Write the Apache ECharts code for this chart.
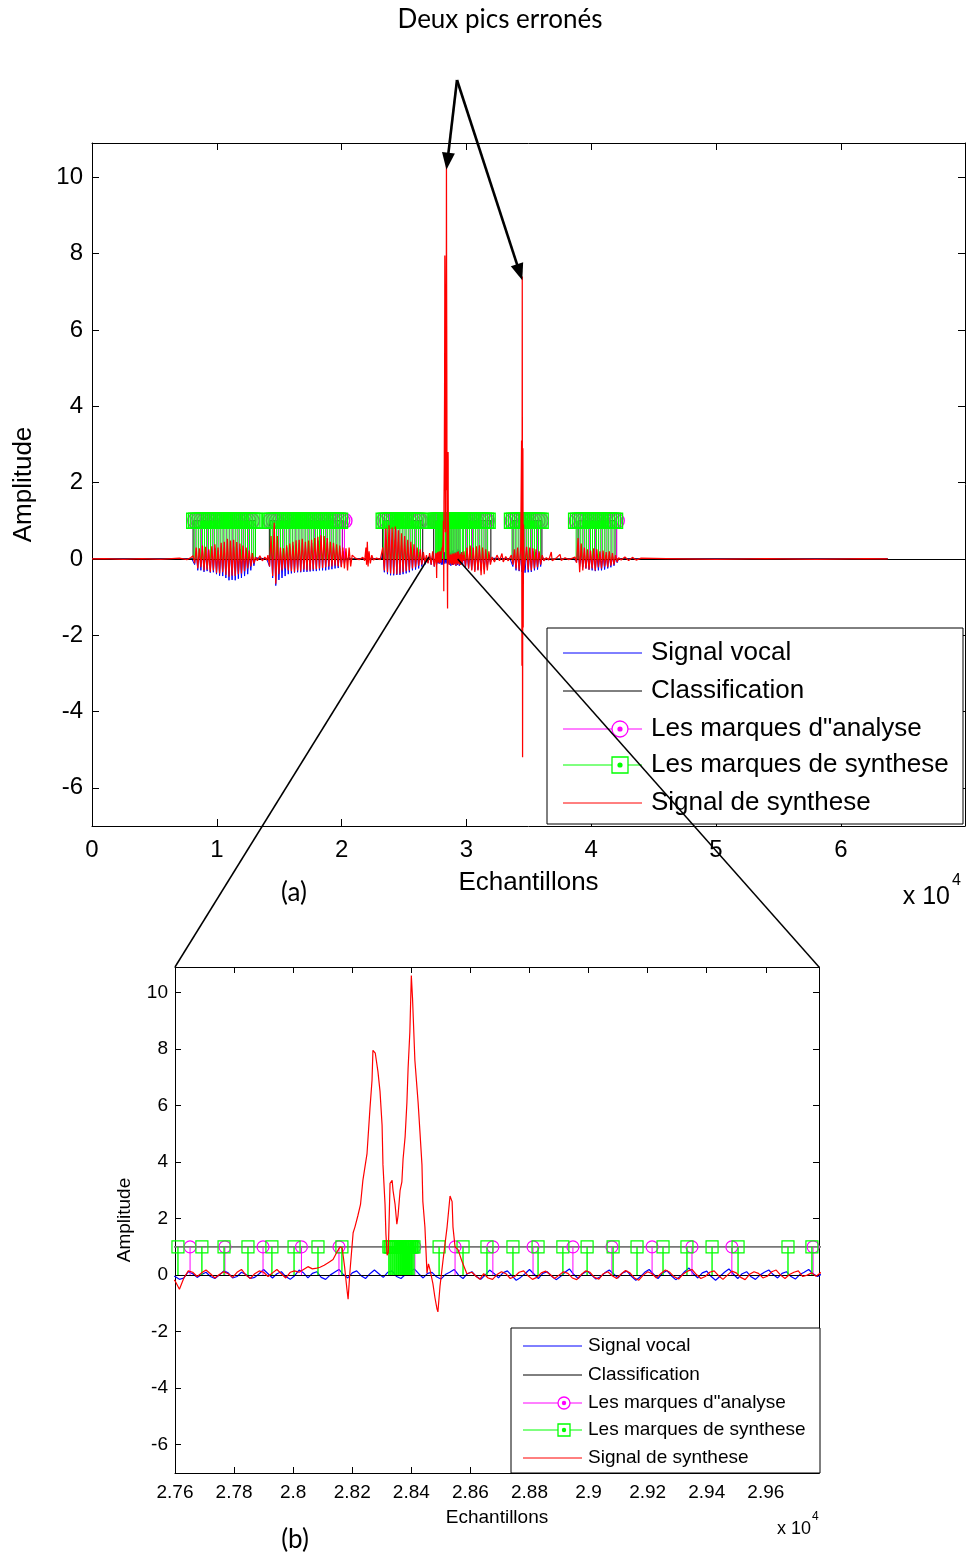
<!DOCTYPE html>
<html>
<head>
<meta charset="utf-8">
<script src="https://cdn.jsdelivr.net/npm/echarts@6.0.0/dist/echarts.min.js"></script>
<style>
html,body{margin:0;padding:0;background:#fff;}
#chart{width:968px;height:1557px;}
</style>
</head>
<body>
<div id="chart"></div>
<script>
// ================= DATA =================
// Voiced segments (classification = 1), in samples
const voicedStart = [8100, 14210, 23290, 27380, 33730, 38950];
const voicedEnd   = [13100, 20075, 26500, 31960, 36050, 42000];
const SIGNAL_END = 63760;

// Decimated samples of the voiced parts (plot a), one value every SEG_STEP samples
const SEG_STEP = 125;
const segStarts = [8100, 14100, 23300, 26800, 29800, 33600, 34700, 38700];
const synthA = [0.08,-0.12,0.3,-0.25,0.28,-0.22,0.35,-0.3,0.32,-0.28,0.25,-0.34,0.33,-0.3,0.38,-0.36,0.3,-0.38,0.42,-0.35,0.45,-0.42,0.53,-0.47,0.48,-0.44,0.5,-0.45,0.44,-0.4,0.4,-0.38,0.35,-0.32,0.3,-0.25,0.22,-0.2,0.15,-0.12,0.05];
const vocalA = [0.05,-0.15,0.2,-0.3,0.22,-0.3,0.25,-0.34,0.2,-0.32,0.22,-0.36,0.25,-0.35,0.28,-0.4,0.22,-0.44,0.3,-0.45,0.3,-0.5,0.35,-0.56,0.3,-0.55,0.32,-0.56,0.28,-0.52,0.25,-0.5,0.22,-0.45,0.2,-0.4,0.15,-0.3,0.1,-0.18,0.03];
const synthB = [0.1,-0.2,0.6,-0.45,0.95,-0.65,0.6,-0.4,0.3,-0.3,0.28,-0.25,0.36,-0.3,0.4,-0.32,0.45,-0.35,0.49,-0.3,0.5,-0.33,0.53,-0.28,0.45,-0.3,0.48,-0.3,0.5,-0.28,0.55,-0.27,0.58,-0.25,0.62,-0.24,0.6,-0.22,0.55,-0.2,0.45,-0.2,0.42,-0.18,0.38,-0.2,0.35,-0.22,0.3,-0.25,0.28,-0.3,0.3,-0.2,0.1];
const vocalB = [0.05,-0.2,0.4,-0.5,0.6,-0.7,0.4,-0.55,0.25,-0.5,0.2,-0.45,0.3,-0.4,0.32,-0.38,0.35,-0.36,0.38,-0.35,0.4,-0.35,0.42,-0.34,0.38,-0.34,0.4,-0.33,0.42,-0.32,0.45,-0.32,0.48,-0.3,0.5,-0.3,0.48,-0.3,0.42,-0.28,0.38,-0.27,0.35,-0.25,0.3,-0.24,0.28,-0.2,0.2,-0.12,0.1,-0.05,0.05,-0.03,0.0];
const synthC = [0.3,-0.3,0.8,-0.35,0.88,-0.38,0.82,-0.39,0.85,-0.4,0.75,-0.38,0.67,-0.35,0.6,-0.32,0.5,-0.3,0.45,-0.25,0.38,-0.22,0.3,-0.18,0.25,-0.15,0.18,-0.1];
const vocalC = [0.2,-0.35,0.5,-0.4,0.55,-0.43,0.5,-0.43,0.5,-0.42,0.45,-0.42,0.4,-0.4,0.35,-0.38,0.32,-0.35,0.3,-0.3,0.25,-0.28,0.2,-0.25,0.18,-0.2,0.12,-0.15];
const synthD1 = [0.1,-0.12,0.15,-0.15,0.2,-0.2,0.15];
const vocalD1 = [0.05,-0.1,0.1,-0.15,0.12,-0.2,0.1];
const synthD2 = [0.2,-0.2,0.3,-0.25,0.35,-0.3,0.3,-0.34,0.33,-0.3,0.36,-0.43,0.3,-0.4,0.25,-0.3,0.2,-0.15,0.05];
const vocalD2 = [0.1,-0.22,0.15,-0.25,0.2,-0.28,0.18,-0.3,0.2,-0.28,0.22,-0.3,0.2,-0.28,0.15,-0.22,0.1,-0.1,0.02];
const synthE1 = [0.1,-0.15,0.25,-0.25,0.3,-0.3,0.32];
const vocalE1 = [0.05,-0.2,0.15,-0.3,0.2,-0.32,0.22];
const synthE2 = [-0.3,0.32,-0.28,0.3,-0.3,0.28,-0.25,0.25,-0.22,0.2,-0.15,0.1,-0.05];
const vocalE2 = [-0.36,0.22,-0.35,0.2,-0.34,0.2,-0.3,0.18,-0.28,0.15,-0.2,0.08,-0.02];
const synthF = [0.05,-0.1,0.55,-0.35,0.4,-0.3,0.3,-0.25,0.25,-0.28,0.22,-0.25,0.28,-0.3,0.25,-0.22,0.2,-0.25,0.22,-0.2,0.18,-0.22,0.2,-0.18,0.15,-0.15,0.1,-0.08,0.03];
const vocalF = [0.02,-0.08,0.2,-0.2,0.15,-0.22,0.15,-0.25,0.15,-0.28,0.12,-0.3,0.15,-0.32,0.12,-0.3,0.12,-0.3,0.1,-0.28,0.1,-0.25,0.1,-0.22,0.08,-0.18,0.05,-0.1,0.0];

// Silent parts and the second erroneous peak, [sample, amplitude]
const synthGaps = [[0,0],[1000,0.01],[2500,-0.01],[4000,0.01],[5500,-0.01],[7000,0.02],[7600,-0.02],[7900,0.03],
  [13250,-0.05],[13450,0.08],[13650,-0.05],[13850,0.05],[14000,-0.03],
  [21100,0.02],[21400,-0.02],[21700,0.04],[21850,-0.05],[21950,0.3],[22000,-0.15],[22060,0.45],[22120,-0.2],[22200,0.2],[22300,-0.12],[22420,0.1],[22550,-0.03],[22800,0.02],[23100,-0.02],
  [32250,-0.08],[32450,0.1],[32650,-0.05],[32850,0.14],[32950,-0.08],[33150,0.06],[33350,-0.05],[33500,0.04],
  [36400,0.03],[36600,-0.03],[36800,0.18],[36870,-0.05],[37200,0.02],[37500,0.12],[37600,-0.04],[37900,0.03],[38200,-0.02],[38500,0.02],
  [42400,-0.03],[42700,0.05],[43000,-0.04],[43300,0.04],[43600,-0.03],[44000,0.02],[46000,0.01],[50000,-0.01],[54000,0.01],[58000,-0.01],[62000,0.01],[63760,0]];
const synthPeak2 = [[34380,0.3],[34420,3.1],[34450,-2.8],[34475,7.4],[34500,-5.2],[34525,2.9],[34550,-1.8],[34580,0.9],[34620,-0.3]];
const vocalGaps = [[0,0],[8000,0],[13200,0],[14000,0],[21000,0],[23200,0],[32150,0],[33500,0],
  [34425,-0.34],[34475,0.25],[34525,-0.35],[34600,0.2],[36300,0],[38600,0],[42300,0],[63760,0]];

// Detailed samples of the zoomed window (plot b), one value every DETAIL_STEP samples
const DETAIL_STEP = 15;
const vocalDetailStart = 27600;
const vocalDetail = [-0.05,-0.15,-0.1,0.12,0.05,-0.08,0.02,0.1,-0.05,-0.12,
  0.0,0.15,0.08,-0.1,-0.05,0.1,0.02,-0.12,-0.08,0.05,
  0.2,0.05,-0.1,0.05,0.12,-0.05,-0.15,-0.02,0.18,0.08,
  -0.1,0.06,0.12,-0.08,-0.15,0.0,0.1,0.2,0.02,-0.1,
  0.08,0.15,-0.02,-0.12,0.05,0.18,0.05,-0.08,0.1,0.15,
  -0.05,-0.12,0.02,0.12,0.22,0.05,-0.1,0.06,0.1,-0.06,
  -0.14,0.02,0.1,0.2,0.0,-0.12,0.05,0.12,-0.05,-0.15,
  0.0,0.18,0.06,-0.1,0.08,0.15,-0.02,-0.18,-0.08,0.05,
  0.2,0.04,-0.12,0.06,0.12,-0.04,-0.16,-0.05,0.1,0.22,
  0.02,-0.12,0.05,0.15,0.0,-0.14,-0.06,0.08,0.18,0.04,
  -0.1,0.08,0.14,-0.04,-0.18,-0.06,0.1,0.2,0.03,-0.12,
  0.06,0.16,-0.02,-0.16,-0.05,0.12,0.25,0.05,-0.1,0.08,
  0.14,-0.05,-0.18,-0.04,0.1,0.22,0.04,-0.12,0.05,0.12,
  -0.06,-0.15,0.0,0.1,0.18,0.02,-0.1,0.06,0.12,-0.05,
  -0.14,0.02,0.1,0.2,0.05,-0.05];
const synthDetailAStart = 27600;
const synthDetailA = [-0.2,-0.5,-0.1,0.15,0.1,-0.05,0.08,0.18,0.05,-0.1,
  0.02,0.12,0.05,-0.08,0.1,0.2,0.0,-0.12,0.05,0.15,
  0.1,-0.05,0.08,0.2,0.05,-0.1,0.1,0.15,0.1,0.2,
  0.3,0.22,0.25];
const synthPeak1 = [[28091,0.28],[28105,0.35],[28120,0.45],[28135,0.55],[28150,0.85],[28159,1.0],[28166,0.95],[28174,0.3],[28182,-0.5],[28186,-0.85],[28192,0.1],
  [28203,1.5],[28209,1.7],[28219,2.1],[28228,2.5],[28236,3.35],[28250,4.3],[28260,5.9],[28267,6.9],[28270,7.95],[28278,7.85],[28287,7.2],[28294,6.5],[28301,5.3],[28304,3.9],[28311,2.5],[28314,1.45],[28318,0.7],
  [28322,0.8],[28328,3.25],[28335,3.35],[28338,3.0],[28345,2.5],[28351,1.8],[28355,2.1],[28362,3.0],[28368,3.3],[28372,4.1],[28379,4.9],[28385,6.1],[28389,7.3],[28395,8.6],[28400,10.6],[28404,9.8],
  [28412,7.6],[28423,6.1],[28429,5.1],[28436,3.9],[28439,2.6],[28446,1.7],[28453,0.07],[28458,0.4],[28463,0.2],[28473,-0.3],[28480,-0.8],[28487,-1.2],[28490,-1.3],[28497,-0.4],[28507,0.5],
  [28521,1.7],[28531,2.8],[28538,2.6],[28541,1.7],[28548,1.0],[28558,0.9],[28571,0.5],[28588,0.05],[28605,0.1],[28620,-0.05],[28632,-0.15]];
const synthDetailBStart = 28645;
const synthDetailB = [0.05,-0.1,-0.15,0.02,0.12,0.05,-0.12,-0.05,0.1,0.15,
  -0.02,-0.15,-0.08,0.08,0.14,0.02,-0.12,0.0,0.12,0.06,
  -0.1,-0.16,0.02,0.15,0.1,-0.08,-0.14,0.05,0.12,-0.02,
  -0.12,0.04,0.16,0.08,-0.1,-0.18,0.0,0.12,0.05,-0.1,
  0.06,0.18,0.1,-0.06,-0.14,0.04,0.14,0.2,0.02,-0.12,
  -0.05,0.1,0.15,-0.02,-0.15,0.0,0.14,0.08,-0.08,-0.16,
  0.03,0.12,0.06,-0.1,-0.04,0.12,0.18,0.0,-0.12,0.02,
  0.1,0.15,-0.05,0.0,0.08,-0.04];

// Pitch marks (sample positions); stems have height MARK_VALUE
const MARK_VALUE = 1;
const analysisMarks = [8270,8520,8770,9020,9270,9520,9770,10020,10270,10520,10770,11020,11270,11520,11770,12020,12270,12520,12800,
  14320,14570,14820,15070,15320,15570,15820,16070,16320,16570,16820,17070,17320,17570,17820,18070,18320,18570,18820,19070,19320,19570,19820,20050,20230,
  23400,23650,23900,24150,24400,24650,24900,25150,25400,25650,25900,26150,26300,
  27520,27651,27769,27898,28028,28155,28412,28548,28676,28812,28947,29079,29215,29350,29485,29760,
  29990,30240,30490,30740,30990,31240,31490,31640,
  33700,33950,34200,34450,34700,34950,35200,35450,35700,35950,
  38850,39100,39350,39600,39850,40100,40350,40600,40850,41100,41350,41600,41850,42050];
const synthMarks = [8190,8350,8520,8680,8850,9010,9180,9340,9500,9670,9830,10000,10160,10330,10490,10650,10820,10980,11150,11310,11470,11640,11800,11970,12130,12290,12460,12620,12790,12950,13090,
  14290,14450,14620,14780,14950,15110,15270,15440,15600,15770,15930,16090,16260,16420,16590,16750,16910,17080,17240,17410,17570,17730,17900,18060,18230,18390,18550,18720,18880,19050,19210,19370,19540,19700,19870,
  23370,23530,23700,23860,24030,24190,24350,24520,24680,24850,25010,25170,25340,25500,25670,25830,25990,26160,26320,
  27530,27610,27691,27766,27847,27928,28003,28084,28165,
  28324,28328,28331,28335,28338,28342,28345,28349,28352,28356,28359,28363,28366,28370,28373,28377,28380,28384,28387,28391,28394,28398,28401,28405,28409,
  28494,28575,28656,28744,28829,28913,28995,29083,29164,29252,29333,29418,29506,29675,29756,
  29920,30085,30250,30410,30580,30740,30910,31070,31230,31400,31560,31700,
  33650,33810,33980,34140,34310,34470,34630,34800,34960,35130,35290,35450,35620,35780,35950,
  38790,38950,39120,39280,39450,39610,39770,39940,40100,40270,40430,40590,40760,40920,41090,41250,41410,41580,41740,41910];

// Axis ranges and tick labels
const X_RANGE_A = [0, 69950], X_INTERVAL_A = 10000;
const X_RANGE_B = [27600, 29780], X_INTERVAL_B = 200;
const Y_RANGE = [-7, 10.9];
const X_TICK_SCALE = 10000;   // "x 10^4"

const NAMES = ['Signal vocal', 'Classification', 'Les marques d"analyse', 'Les marques de synthese', 'Signal de synthese'];
const COLORS = ['#0000ff', '#000000', '#ff00ff', '#00ff00', '#ff0000'];

// ================= BUILD =================
const FONT = "'Liberation Sans', Arial, sans-serif";
const CAL = "Lato, 'Open Sans', sans-serif";

function regular(start, step, vals) { return vals.map((v, i) => [start + i * step, v]); }
const synthSegs = [synthA, synthB, synthC, synthD1, synthD2, synthE1, synthE2, synthF];
const vocalSegs = [vocalA, vocalB, vocalC, vocalD1, vocalD2, vocalE1, vocalE2, vocalF];
const byX = (a, b) => a[0] - b[0];

let synthAll = [], vocalAll = [];
synthSegs.forEach((s, i) => { synthAll = synthAll.concat(regular(segStarts[i], SEG_STEP, s)); });
vocalSegs.forEach((s, i) => { vocalAll = vocalAll.concat(regular(segStarts[i], SEG_STEP, s)); });
synthAll = synthAll.concat(synthGaps, synthPeak2, synthPeak1,
  regular(synthDetailAStart, DETAIL_STEP, synthDetailA),
  regular(synthDetailBStart, DETAIL_STEP, synthDetailB)).sort(byX);
vocalAll = vocalAll.concat(vocalGaps, regular(vocalDetailStart, DETAIL_STEP, vocalDetail)).sort(byX);

const classAll = [[0, 0]];
voicedStart.forEach((s, i) => { classAll.push([s, 0], [s, 1], [voicedEnd[i], 1], [voicedEnd[i], 0]); });
classAll.push([SIGNAL_END, 0]);

const inB = x => x >= X_RANGE_B[0] && x <= X_RANGE_B[1];

function stemSeries(name, idx, marks, shape, size, lw, color, stemColor, stemW, z) {
  return {
    name, type: 'custom', xAxisIndex: idx, yAxisIndex: idx, z, silent: true,
    data: marks.map(m => [m, MARK_VALUE]),
    encode: { x: 0, y: 1 },
    renderItem: function (params, api) {
      const x = api.value(0), h = api.value(1);
      const b = api.coord([x, 0]), t = api.coord([x, h]);
      const cs = params.coordSys;
      if (t[0] < cs.x - 0.5 || t[0] > cs.x + cs.width + 0.5) return null;
      const kids = [{ type: 'line', shape: { x1: b[0], y1: b[1], x2: t[0], y2: t[1] }, style: { stroke: stemColor, lineWidth: stemW } }];
      if (shape === 'circle') kids.push({ type: 'circle', shape: { cx: t[0], cy: t[1], r: size / 2 }, style: { fill: 'none', stroke: color, lineWidth: lw } });
      else kids.push({ type: 'rect', shape: { x: t[0] - size / 2, y: t[1] - size / 2, width: size, height: size }, style: { fill: 'none', stroke: color, lineWidth: lw } });
      return { type: 'group', children: kids };
    }
  };
}

function plotSeries(idx, opt) {
  const clip = idx === 2;
  const aMarks = clip ? analysisMarks.filter(inB) : analysisMarks;
  const sMarks = clip ? synthMarks.filter(inB) : synthMarks;
  return [
    { name: NAMES[0], type: 'line', xAxisIndex: idx, yAxisIndex: idx, data: vocalAll, symbol: 'none', showSymbol: false, z: 1, silent: true,
      lineStyle: { color: COLORS[0], width: opt.lw } },
    { name: NAMES[1], type: 'line', xAxisIndex: idx, yAxisIndex: idx, data: classAll, symbol: 'none', showSymbol: false, z: 2, silent: true,
      lineStyle: { color: opt.classColor, width: opt.classW },
      markLine: { silent: true, symbol: ['none', 'none'], label: { show: false }, animation: false,
        lineStyle: { color: '#000', width: 1, type: 'solid' }, data: [{ yAxis: 0 }] } },
    stemSeries(NAMES[2], idx, aMarks, 'circle', opt.msize, opt.mlw, COLORS[2], '#ff00ff', 1, 3),
    stemSeries(NAMES[3], idx, sMarks, 'rect', opt.msize, opt.mlw, COLORS[3], '#00ff00', opt.stemW, 4),
    { name: NAMES[4], type: 'line', xAxisIndex: idx, yAxisIndex: idx, data: synthAll, symbol: 'none', showSymbol: false, z: 5, silent: true,
      lineStyle: { color: COLORS[4], width: opt.rlw } }
  ];
}

function xAxes(grid, range, interval, fs, tickLen, margin, fmt, nameFs, nameGap) {
  const common = { gridIndex: grid, type: 'value', min: range[0], max: range[1], interval,
    axisLine: { onZero: false, lineStyle: { color: '#000', width: 1 } },
    axisTick: { inside: true, length: tickLen, lineStyle: { color: '#000' } }, splitLine: { show: false } };
  return [
    Object.assign({}, common, { position: 'bottom',
      axisLabel: { fontSize: fs, fontFamily: FONT, color: '#000', margin, formatter: fmt },
      name: 'Echantillons', nameLocation: 'middle', nameGap, nameTextStyle: { fontSize: nameFs, fontFamily: FONT, color: '#000' } }),
    Object.assign({}, common, { position: 'top', axisLabel: { show: false } })
  ];
}
function yAxes(grid, fs, tickLen, margin, nameFs, nameGap) {
  const common = { gridIndex: grid, type: 'value', min: Y_RANGE[0], max: Y_RANGE[1], splitNumber: 9,
    axisLine: { onZero: false, lineStyle: { color: '#000', width: 1 } },
    axisTick: { inside: true, length: tickLen, lineStyle: { color: '#000' } }, splitLine: { show: false } };
  const fmt = v => (Math.abs(v - Math.round(v)) < 1e-9 && Math.round(v) % 2 === 0) ? String(Math.round(v)) : '';
  return [
    Object.assign({}, common, { position: 'left',
      axisLabel: { fontSize: fs, fontFamily: FONT, color: '#000', margin, formatter: fmt },
      name: 'Amplitude', nameLocation: 'middle', nameGap, nameTextStyle: { fontSize: nameFs, fontFamily: FONT, color: '#000' } }),
    Object.assign({}, common, { position: 'right', axisLabel: { show: false } })
  ];
}

const fmtA = v => (v % X_INTERVAL_A === 0) ? String(v / X_TICK_SCALE) : '';
const fmtB = v => (Math.round(v) % X_INTERVAL_B === 0) ? String(+(v / X_TICK_SCALE).toFixed(2)) : '';

// Legend blocks (graphic, real text)
function legendBlock(b) {
  const els = [{ type: 'rect', z: 100, shape: { x: b.x, y: b.y, width: b.w, height: b.h }, style: { fill: '#fff', stroke: '#000', lineWidth: 1 } }];
  NAMES.forEach((n, i) => {
    const y = b.rows[i];
    els.push({ type: 'line', z: 101, shape: { x1: b.lx1, y1: y, x2: b.lx2, y2: y }, style: { stroke: COLORS[i], lineWidth: 1 } });
    if (i === 2) {
      els.push({ type: 'circle', z: 102, shape: { cx: b.mx, cy: y, r: b.r }, style: { fill: '#fff', stroke: COLORS[i], lineWidth: 1.3 } });
      els.push({ type: 'circle', z: 103, shape: { cx: b.mx, cy: y, r: b.dot }, style: { fill: COLORS[i] } });
    }
    if (i === 3) {
      els.push({ type: 'rect', z: 102, shape: { x: b.mx - b.r, y: y - b.r, width: 2 * b.r, height: 2 * b.r }, style: { fill: '#fff', stroke: COLORS[i], lineWidth: 1.3 } });
      els.push({ type: 'circle', z: 103, shape: { cx: b.mx, cy: y, r: b.dot }, style: { fill: COLORS[i] } });
    }
    els.push({ type: 'text', z: 101, x: b.tx, y: y, style: { text: n, fontSize: b.fs, fontFamily: FONT, fill: '#000', align: 'left', verticalAlign: 'middle' } });
  });
  return els;
}

const staticGraphics = [].concat(
  legendBlock({ x: 547, y: 628, w: 416, h: 196, rows: [653, 691, 729, 765, 803], lx1: 563, lx2: 642, mx: 620, r: 8, dot: 2.6, tx: 651, fs: 26 }),
  legendBlock({ x: 511, y: 1328, w: 309, h: 145, rows: [1346, 1375, 1403, 1430, 1458], lx1: 523, lx2: 582, mx: 564, r: 6, dot: 2.2, tx: 588, fs: 19 }),
  [
    { type: 'text', z: 100, x: 500, y: 20, style: { text: 'Deux pics erronés', fontSize: 26, fontFamily: CAL, fill: '#000', align: 'center', verticalAlign: 'middle' } },
    { type: 'text', z: 100, x: 294, y: 893, style: { text: '(a)', fontSize: 26, fontFamily: CAL, fill: '#000', align: 'center', verticalAlign: 'middle' } },
    { type: 'text', z: 100, x: 295, y: 1540, style: { text: '(b)', fontSize: 26, fontFamily: CAL, fill: '#000', align: 'center', verticalAlign: 'middle' } },
    { type: 'text', z: 100, x: 950, y: 897, style: { text: 'x 10', fontSize: 25, fontFamily: FONT, fill: '#000', align: 'right', verticalAlign: 'middle' } },
    { type: 'text', z: 100, x: 952, y: 881, style: { text: '4', fontSize: 16, fontFamily: FONT, fill: '#000', align: 'left', verticalAlign: 'middle' } },
    { type: 'text', z: 100, x: 811, y: 1529, style: { text: 'x 10', fontSize: 18, fontFamily: FONT, fill: '#000', align: 'right', verticalAlign: 'middle' } },
    { type: 'text', z: 100, x: 812, y: 1517, style: { text: '4', fontSize: 12, fontFamily: FONT, fill: '#000', align: 'left', verticalAlign: 'middle' } }
  ]
);

const option = {
  animation: false,
  backgroundColor: '#ffffff',
  grid: [
    { left: 92, top: 143, width: 873, height: 683, containLabel: false },
    { left: 175, top: 967, width: 644, height: 506, containLabel: false }
  ],
  xAxis: [].concat(
    xAxes(0, X_RANGE_A, X_INTERVAL_A, 24, 7, 12, fmtA, 26, 44),
    xAxes(1, X_RANGE_B, X_INTERVAL_B, 19, 6, 10, fmtB, 19, 35)
  ),
  yAxis: [].concat(
    yAxes(0, 24, 7, 9, 26, 55),
    yAxes(1, 19, 6, 7, 19, 41)
  ),
  series: [].concat(
    plotSeries(0, { lw: 1, rlw: 1.25, classColor: '#000', classW: 1, msize: 15, mlw: 1.4, stemW: 1 }),
    plotSeries(2, { lw: 1.2, rlw: 1.2, classColor: '#777', classW: 1.6, msize: 12, mlw: 1.2, stemW: 1.4 })
  ),
  graphic: { elements: staticGraphics }
};

const chart = echarts.init(document.getElementById('chart'), null, { renderer: 'canvas' });
chart.setOption(option);

// ---- annotations anchored to data positions ----
function P(g, pt) { return chart.convertToPixel({ gridIndex: g }, pt); }
function arrow(from, to, headLen, headW, width) {
  const dx = to[0] - from[0], dy = to[1] - from[1], L = Math.hypot(dx, dy), ux = dx / L, uy = dy / L;
  const bx = to[0] - ux * headLen, by = to[1] - uy * headLen, px = -uy, py = ux;
  return [
    { type: 'line', z: 200, shape: { x1: from[0], y1: from[1], x2: bx + ux * 2, y2: by + uy * 2 }, style: { stroke: '#000', lineWidth: width } },
    { type: 'polygon', z: 200, shape: { points: [[to[0], to[1]], [bx + px * headW / 2, by + py * headW / 2], [bx - px * headW / 2, by - py * headW / 2]] }, style: { fill: '#000' } }
  ];
}
const arrowFrom = [457, 80];
const tip1 = P(0, [28400, 10.2]);
const tip2 = P(0, [34475, 7.3]);
const zA1 = P(0, [27000, 0.05]), zA2 = P(0, [29300, 0]);
const zB1 = P(1, [X_RANGE_B[0], Y_RANGE[1]]), zB2 = P(1, [X_RANGE_B[1], Y_RANGE[1]]);
const dyn = [].concat(
  arrow(arrowFrom, tip1, 17, 13, 2.6),
  arrow(arrowFrom, tip2, 17, 13, 2.6),
  [
    { type: 'line', z: 210, shape: { x1: zA1[0], y1: zA1[1], x2: zB1[0], y2: zB1[1] }, style: { stroke: '#000', lineWidth: 1.5 } },
    { type: 'line', z: 210, shape: { x1: zA2[0], y1: zA2[1], x2: zB2[0], y2: zB2[1] }, style: { stroke: '#000', lineWidth: 1.5 } }
  ]
);
chart.setOption({ graphic: { elements: staticGraphics.concat(dyn) } });
</script>
</body>
</html>
